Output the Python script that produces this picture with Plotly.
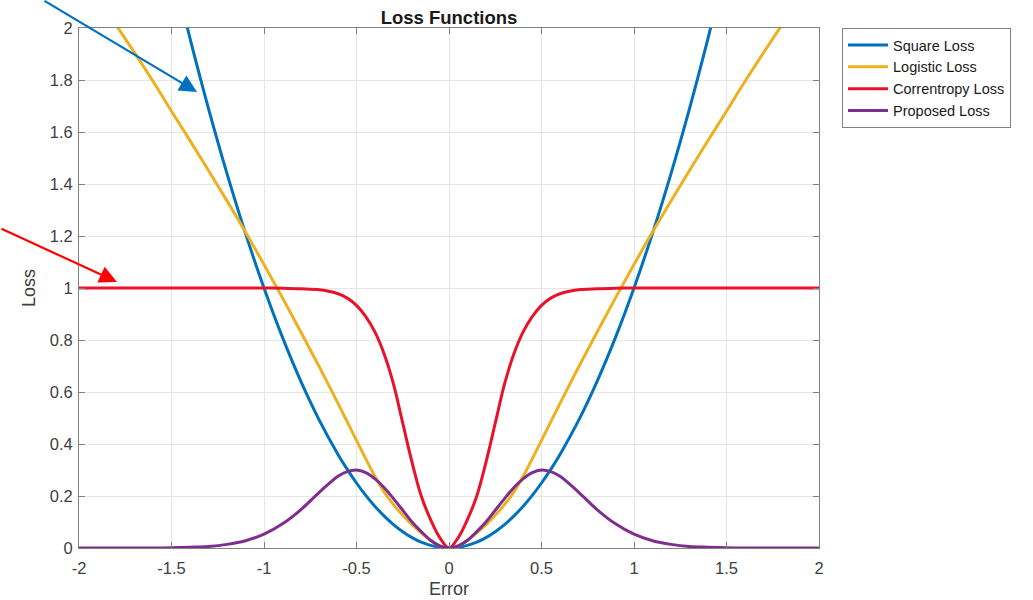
import plotly.graph_objects as go

# ---- data ----
error_x = [-2.0, -1.9, -1.8, -1.7, -1.6, -1.5, -1.4, -1.3, -1.2, -1.1, -1.0, -0.9, -0.8, -0.7,
           -0.6, -0.55, -0.5, -0.45, -0.4, -0.35, -0.3, -0.25, -0.2, -0.15, -0.1, -0.05, 0.0,
           0.05, 0.1, 0.15, 0.2, 0.25, 0.3, 0.35, 0.4, 0.45, 0.5, 0.55, 0.6,
           0.7, 0.8, 0.9, 1.0, 1.1, 1.2, 1.3, 1.4, 1.5, 1.6, 1.7, 1.8, 1.9, 2.0]

square_loss = [4.0, 3.61, 3.24, 2.89, 2.56, 2.25, 1.96, 1.69, 1.44, 1.21, 1.0, 0.81, 0.64, 0.49,
               0.36, 0.3025, 0.25, 0.2025, 0.16, 0.1225, 0.09, 0.0625, 0.04, 0.0225, 0.01, 0.0025, 0.0,
               0.0025, 0.01, 0.0225, 0.04, 0.0625, 0.09, 0.1225, 0.16, 0.2025, 0.25, 0.3025, 0.36,
               0.49, 0.64, 0.81, 1.0, 1.21, 1.44, 1.69, 1.96, 2.25, 2.56, 2.89, 3.24, 3.61, 4.0]

logistic_loss = [2.23, 2.12, 2.012, 1.905, 1.795, 1.68, 1.567, 1.452, 1.335, 1.215, 1.09, 0.962, 0.83, 0.695,
                 0.556, 0.485, 0.414, 0.343, 0.275, 0.215, 0.167, 0.126, 0.09, 0.058, 0.03, 0.008, 0.0,
                 0.008, 0.03, 0.058, 0.09, 0.126, 0.167, 0.215, 0.275, 0.343, 0.414, 0.485, 0.556,
                 0.695, 0.83, 0.962, 1.09, 1.215, 1.335, 1.452, 1.567, 1.68, 1.795, 1.905, 2.012, 2.12, 2.23]

correntropy_loss = [1.0, 1.0, 1.0, 1.0, 1.0, 1.0, 1.0, 1.0, 1.0, 1.0, 1.0, 0.999, 0.997, 0.993,
                    0.978, 0.961, 0.933, 0.89, 0.83, 0.745, 0.63, 0.48, 0.33, 0.20, 0.11, 0.04, 0.0,
                    0.04, 0.11, 0.20, 0.33, 0.48, 0.63, 0.745, 0.83, 0.89, 0.933, 0.961, 0.978,
                    0.993, 0.997, 0.999, 1.0, 1.0, 1.0, 1.0, 1.0, 1.0, 1.0, 1.0, 1.0, 1.0, 1.0]

proposed_loss = [0.0, 0.0, 0.0, 0.0, 0.0, 0.001, 0.003, 0.006, 0.014, 0.028, 0.053, 0.093, 0.148, 0.215,
                 0.276, 0.294, 0.30, 0.29, 0.266, 0.232, 0.19, 0.145, 0.10, 0.063, 0.03, 0.008, 0.0,
                 0.008, 0.03, 0.063, 0.10, 0.145, 0.19, 0.232, 0.266, 0.29, 0.30, 0.294, 0.276,
                 0.215, 0.148, 0.093, 0.053, 0.028, 0.014, 0.006, 0.003, 0.001, 0.0, 0.0, 0.0, 0.0, 0.0]

series_names = ["Square Loss", "Logistic Loss", "Correntropy Loss", "Proposed Loss"]
series_colors = ["#0072BD", "#EDB120", "#E8132B", "#7E2F8E"]
series_values = [square_loss, logistic_loss, correntropy_loss, proposed_loss]

x_ticks = [-2, -1.5, -1, -0.5, 0, 0.5, 1, 1.5, 2]
x_tick_text = ["-2", "-1.5", "-1", "-0.5", "0", "0.5", "1", "1.5", "2"]
y_ticks = [0, 0.2, 0.4, 0.6, 0.8, 1.0, 1.2, 1.4, 1.6, 1.8, 2.0]
y_tick_text = ["0", "0.2", "0.4", "0.6", "0.8", "1", "1.2", "1.4", "1.6", "1.8", "2"]

FONT = "Arial, Liberation Sans, Helvetica, sans-serif"

fig = go.Figure()
for name, color, vals in zip(series_names, series_colors, series_values):
    fig.add_trace(go.Scatter(
        x=error_x, y=vals, mode="lines", name=name,
        line=dict(color=color, width=3, shape="spline", smoothing=1.0),
    ))

axis_common = dict(
    showline=True, linecolor="#808080", linewidth=1, mirror="ticks",
    ticks="inside", ticklen=6, tickcolor="#808080",
    showgrid=True, gridcolor="#E6E6E6", gridwidth=1,
    zeroline=False, automargin=False,
    tickfont=dict(family=FONT, size=16.5, color="#404040"),
)

fig.update_layout(
    width=1033, height=600,
    margin=dict(l=79, r=214, t=28, b=52),
    paper_bgcolor="white", plot_bgcolor="white",
    title=dict(text="<b>Loss Functions</b>", x=(79 + 370) / 1033, xanchor="center",
               y=1 - 17.5 / 600, yanchor="middle",
               font=dict(family=FONT, size=18.5, color="#1a1a1a")),
    xaxis=dict(range=[-2, 2], tickvals=x_ticks, ticktext=x_tick_text, ticklabelstandoff=5,
               title=dict(text="Error", font=dict(family=FONT, size=18, color="#404040"), standoff=6),
               **axis_common),
    yaxis=dict(range=[0, 2], tickvals=y_ticks, ticktext=y_tick_text, ticklabelstandoff=2,
               title=dict(text="Loss", font=dict(family=FONT, size=18, color="#404040"), standoff=9),
               **axis_common),
    legend=dict(x=(842 - 79) / 740, y=1, xanchor="left", yanchor="top",
                bordercolor="#808080", borderwidth=1, bgcolor="white", itemwidth=40,
                font=dict(family=FONT, size=14.5, color="#1a1a1a")),
    showlegend=True,
)

# arrows (pointer annotations)
fig.add_annotation(xref="paper", yref="paper", x=(197 - 79) / 740, y=(548 - 92) / 520,
                   ax=-154, ay=-94, text="", showarrow=True,
                   arrowhead=2, arrowsize=1.6, arrowwidth=2.2, arrowcolor="#0070C0", standoff=0)
fig.add_annotation(xref="paper", yref="paper", x=(117 - 79) / 740, y=(548 - 282) / 520,
                   ax=-119, ay=-54, text="", showarrow=True,
                   arrowhead=2, arrowsize=1.6, arrowwidth=2.2, arrowcolor="#FF0000", standoff=0)

fig.write_html("out.html")
